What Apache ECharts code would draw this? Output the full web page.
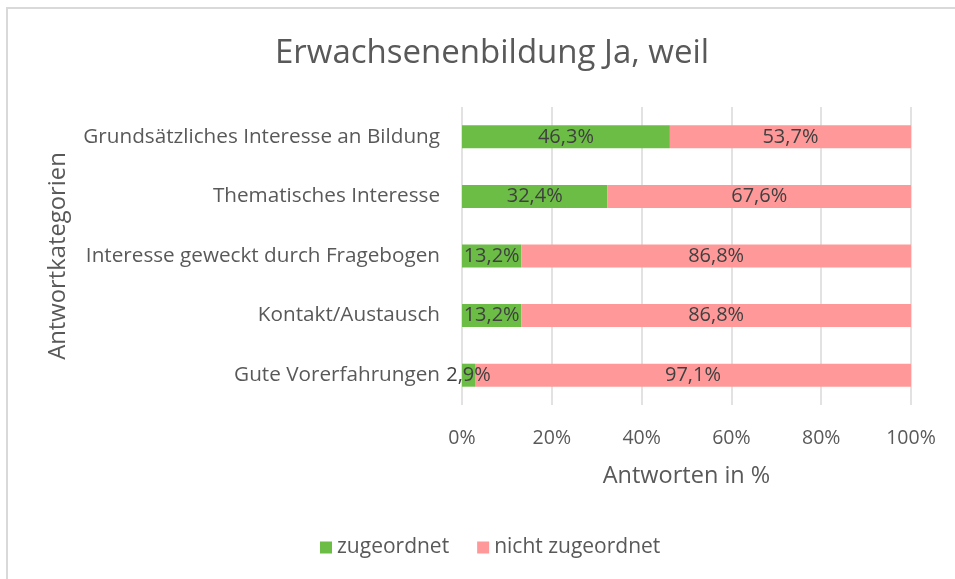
<!DOCTYPE html>
<html>
<head>
<meta charset="utf-8">
<script src="https://cdn.jsdelivr.net/npm/echarts@6/dist/echarts.min.js"></script>
<style>html,body{margin:0;padding:0;background:#fff;}#c{width:955px;height:579px;}</style>
</head>
<body>
<div id="c"></div>
<script>
const categories = ["Grundsätzliches Interesse an Bildung","Thematisches Interesse","Interesse geweckt durch Fragebogen","Kontakt/Austausch","Gute Vorerfahrungen"];
const zugeordnet = [46.3, 32.4, 13.2, 13.2, 2.9];
const nichtZugeordnet = [53.7, 67.6, 86.8, 86.8, 97.1];
const seriesNames = ["zugeordnet","nicht zugeordnet"];
const xTicks = [0,20,40,60,80,100];

const FONT = '"Open Sans", "Liberation Sans", sans-serif';
const chart = echarts.init(document.getElementById('c'), null, {renderer:'canvas'});
const fmt = v => v.toFixed(1).replace('.', ',') + '%';
const lbl = {show:true, position:'inside', color:'#404040', fontSize:20, fontFamily:FONT, formatter: p => fmt(p.value)};
chart.setOption({
  animation:false,
  backgroundColor:'#fff',
  graphic:[{type:'rect', shape:{x:7,y:8,width:1000,height:600}, style:{fill:'none', stroke:'#d9d9d9', lineWidth:2}, silent:true}],
  title:{text:'Erwachsenenbildung Ja, weil', left:270, top:32, textStyle:{fontFamily:FONT, fontSize:33, fontWeight:'normal', color:'#595959'}},
  legend:{data:seriesNames, bottom:16, left:315, itemWidth:12, itemHeight:12, itemGap:28, icon:'rect',
    textStyle:{fontFamily:FONT, fontSize:21, color:'#595959'}},
  grid:{left:462, right:44, top:107, bottom:174, containLabel:false},
  xAxis:{type:'value', min:0, max:100, interval:20,
    axisLabel:{formatter: v => xTicks.includes(v) ? v + '%' : '', fontFamily:FONT, fontSize:19.5, color:'#595959', margin:23},
    axisLine:{show:false}, axisTick:{show:false},
    splitLine:{show:true, lineStyle:{color:'#d9d9d9', width:1.5}},
    name:'Antworten in %', nameLocation:'middle', nameGap:59,
    nameTextStyle:{fontFamily:FONT, fontSize:23.5, color:'#595959'}},
  yAxis:{type:'category', data:categories, inverse:true,
    axisLine:{show:false}, axisTick:{show:false},
    axisLabel:{fontFamily:FONT, fontSize:20.7, color:'#595959', margin:22},
    name:'Antwortkategorien', nameLocation:'middle', nameGap:392, nameRotate:90,
    nameTextStyle:{fontFamily:FONT, fontSize:23.8, color:'#595959'}},
  series:[
    {name:seriesNames[0], type:'bar', stack:'s', data:zugeordnet, barWidth:23, itemStyle:{color:'#6BBD45'}, label:lbl},
    {name:seriesNames[1], type:'bar', stack:'s', data:nichtZugeordnet, barWidth:23, itemStyle:{color:'#FF9999'}, label:lbl}
  ]
});
</script>
</body>
</html>
